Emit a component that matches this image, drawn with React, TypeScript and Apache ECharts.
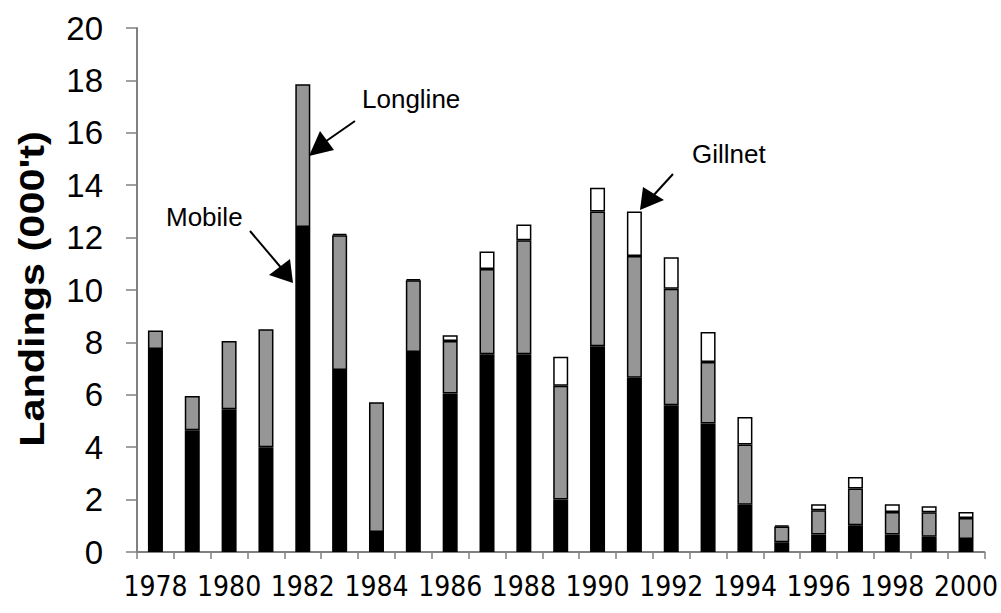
import React, { useEffect, useRef } from "react";
import * as echarts from "echarts";

const years = ["1978","1979","1980","1981","1982","1983","1984","1985","1986","1987","1988","1989","1990","1991","1992","1993","1994","1995","1996","1997","1998","1999","2000"];
const mobile = [7.75, 4.65, 5.45, 4.0, 12.4, 6.95, 0.76, 7.63, 6.05, 7.55, 7.55, 2.0, 7.85, 6.65, 5.6, 4.9, 1.8, 0.37, 0.67, 1.02, 0.67, 0.58, 0.5];
const longline = [0.7, 1.3, 2.6, 4.5, 5.45, 5.14, 4.96, 2.74, 2.0, 3.25, 4.35, 4.35, 5.15, 4.65, 4.45, 2.35, 2.3, 0.6, 0.92, 1.4, 0.86, 0.94, 0.8];
const gillnet = [0, 0, 0, 0, 0, 0.05, 0, 0.05, 0.22, 0.67, 0.6, 1.1, 0.9, 1.7, 1.2, 1.15, 1.05, 0.05, 0.23, 0.44, 0.29, 0.23, 0.23];
const yTicks = { min: 0, max: 20, interval: 2 };
const axisTitle = "Landings (000't)";

const FONT = "'Liberation Sans', Arial, sans-serif";

export default function App() {
  const ref = useRef<HTMLDivElement>(null);
  useEffect(() => {
    if (!ref.current) return;
    const chart = echarts.init(ref.current, null, { renderer: "svg" });
    const barBase = {
      type: "bar",
      stack: "total",
      barWidth: 15,
      animation: false,
    };
    const annText = (txt: string, x: number, y: number) => ({
      type: "text",
      x,
      y,
      style: { text: txt, font: `26px ${FONT}`, fill: "#000", verticalAlign: "middle", align: "left" },
    });
    chart.setOption({
      animation: false,
      backgroundColor: "#fff",
      grid: { left: 137, right: 15, top: 28, bottom: 61, containLabel: false },
      xAxis: {
        type: "category",
        data: years,
        boundaryGap: true,
        axisLine: { lineStyle: { color: "#808080", width: 2 } },
        axisTick: { show: true, interval: 0, length: 7, alignWithLabel: false, lineStyle: { color: "#808080", width: 1.5 } },
        axisLabel: { interval: 1, color: "#000", fontSize: 28, fontFamily: "'Liberation Sans Narrow', 'DejaVu Sans Condensed', Arial, sans-serif", margin: 20 },
        splitLine: { show: false },
      },
      yAxis: {
        type: "value",
        min: yTicks.min,
        max: yTicks.max,
        interval: yTicks.interval,
        axisLine: { show: true, lineStyle: { color: "#808080", width: 2 } },
        axisTick: { show: true, length: 11, lineStyle: { color: "#808080", width: 1.5 } },
        axisLabel: { color: "#000", fontSize: 33, fontFamily: FONT, margin: 34 },
        splitLine: { show: false },
      },
      series: [
        { ...barBase, name: "Mobile", data: mobile, itemStyle: { color: "#000", borderColor: "#000", borderWidth: 1.5 } },
        { ...barBase, name: "Longline", data: longline, itemStyle: { color: "#969696", borderColor: "#000", borderWidth: 1.5 } },
        { ...barBase, name: "Gillnet", data: gillnet.map((v) => (v === 0 ? "-" : v)), itemStyle: { color: "#fff", borderColor: "#000", borderWidth: 1.5 } },
      ],
      graphic: [
        {
          type: "text",
          x: 31,
          y: 289,
          rotation: Math.PI / 2,
          scaleX: 1.15,
          style: { text: axisTitle, font: `bold 36px ${FONT}`, fill: "#000", align: "center", verticalAlign: "middle" },
        },
        annText("Longline", 362, 99),
        annText("Mobile", 166, 217),
        annText("Gillnet", 692, 154),
        { type: "line", shape: { x1: 355, y1: 121, x2: 322, y2: 144 }, style: { stroke: "#000", lineWidth: 2 } },
        { type: "polygon", shape: { points: [[309, 156], [320, 131], [334, 150]] }, style: { fill: "#000" } },
        { type: "line", shape: { x1: 250, y1: 231, x2: 283, y2: 270 }, style: { stroke: "#000", lineWidth: 2 } },
        { type: "polygon", shape: { points: [[293, 283], [269, 275], [290, 259]] }, style: { fill: "#000" } },
        { type: "line", shape: { x1: 673, y1: 174, x2: 652, y2: 197 }, style: { stroke: "#000", lineWidth: 2 } },
        { type: "polygon", shape: { points: [[640, 210], [643, 187], [664, 200]] }, style: { fill: "#000" } },
      ],
    });
    return () => chart.dispose();
  }, []);
  return <div ref={ref} style={{ position: "absolute", left: 0, top: 0, width: 1001, height: 613 }} />;
}
